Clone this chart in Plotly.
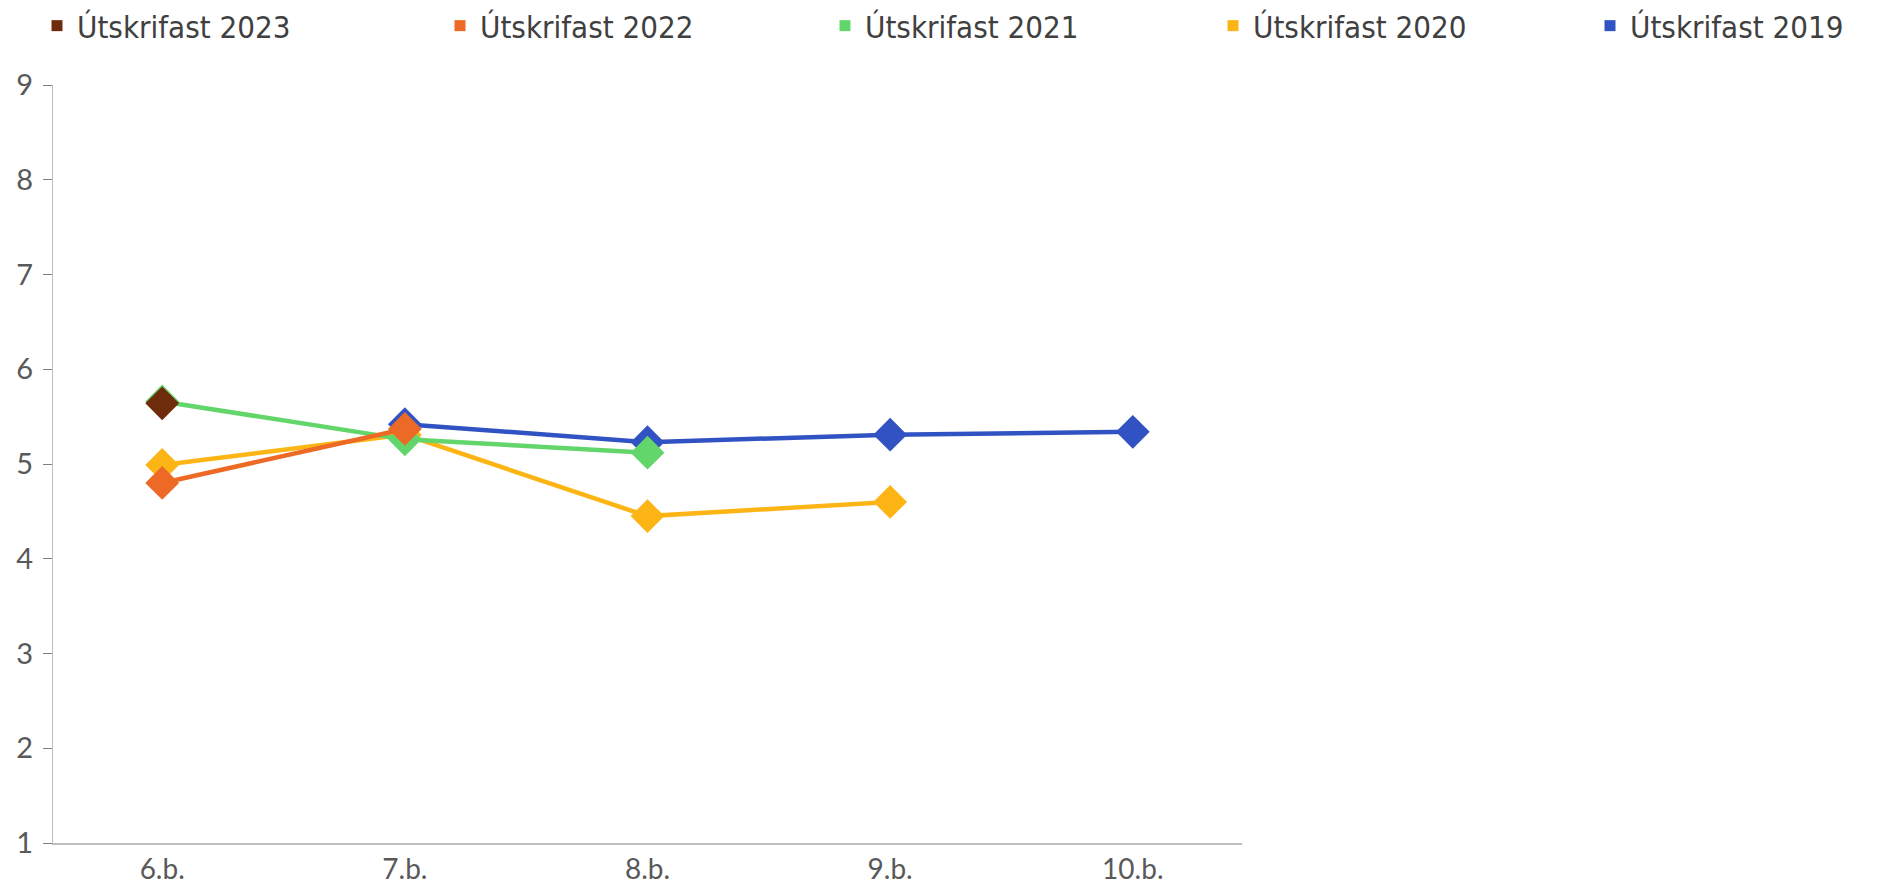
import plotly.graph_objects as go

categories = ["6.b.", "7.b.", "8.b.", "9.b.", "10.b."]

series_names = ["Útskrifast 2019", "Útskrifast 2020", "Útskrifast 2021", "Útskrifast 2022", "Útskrifast 2023"]
vals_2019 = [None, 5.42, 5.23, 5.31, 5.34]
vals_2020 = [4.99, 5.31, 4.45, 4.60, None]
vals_2021 = [5.66, 5.26, 5.12, None, None]
vals_2022 = [4.80, 5.37, None, None, None]
vals_2023 = [5.64, None, None, None, None]
series_values = [vals_2019, vals_2020, vals_2021, vals_2022, vals_2023]
colors = ["#3152C2", "#FDB515", "#62D66A", "#EC6A25", "#6E2C0C"]

y_ticks = [1, 2, 3, 4, 5, 6, 7, 8, 9]

# legend slots (left to right: 2023 ... 2019), text start in px
legend_text_x = [1630, 1253, 865, 480, 77]
legend_ids = ["legend5", "legend4", "legend3", "legend2", "legend"]

W, H = 1880, 889

fig = go.Figure()

for name, vals, col in zip(series_names, series_values, colors):
    fig.add_trace(go.Scatter(
        x=categories, y=vals, mode="lines+markers", name=name,
        line=dict(color=col, width=4.5),
        marker=dict(symbol="diamond", size=26, color=col),
        connectgaps=False, showlegend=False, cliponaxis=False,
    ))

legend_font = dict(family="DejaVu Sans Condensed, sans-serif", size=31, color="#404040")
legend_layouts = {}
for name, col, lid, tx in zip(series_names, colors, legend_ids, legend_text_x):
    fig.add_trace(go.Scatter(
        x=[None], y=[None], mode="markers", name=name,
        marker=dict(symbol="square", size=11, color=col),
        showlegend=True, legend=lid,
    ))
    legend_layouts[lid] = dict(
        orientation="h",
        xref="container", yref="container",
        x=(tx - 40) / W, y=1 - 26 / H, xanchor="left", yanchor="middle",
        font=legend_font, bgcolor="rgba(0,0,0,0)",
    )

fig.update_layout(
    width=W, height=H,
    paper_bgcolor="white", plot_bgcolor="white",
    margin=dict(l=53, r=638, t=85, b=46, autoexpand=False),
    showlegend=True,
    xaxis=dict(
        type="category", range=[-0.45, 4.45],
        showline=True, linecolor="#BFBFBF", linewidth=2,
        showgrid=False, ticks="", zeroline=False,
        tickfont=dict(family="Lato, Open Sans, sans-serif", size=28, color="#595959"),
    ),
    yaxis=dict(
        range=[1, 9], tickvals=y_ticks,
        showline=True, linecolor="#BFBFBF", linewidth=1,
        showgrid=False, zeroline=False,
        ticks="outside", ticklen=9, tickcolor="#7F7F7F", tickwidth=1,
        ticklabelstandoff=4,
        tickfont=dict(family="Lato, Open Sans, sans-serif", size=29, color="#595959"),
    ),
    **legend_layouts,
)

fig.write_html(
    "out.html",
    config={"displayModeBar": False},
    post_script="document.body.style.margin='0';document.body.style.overflow='hidden';",
)
